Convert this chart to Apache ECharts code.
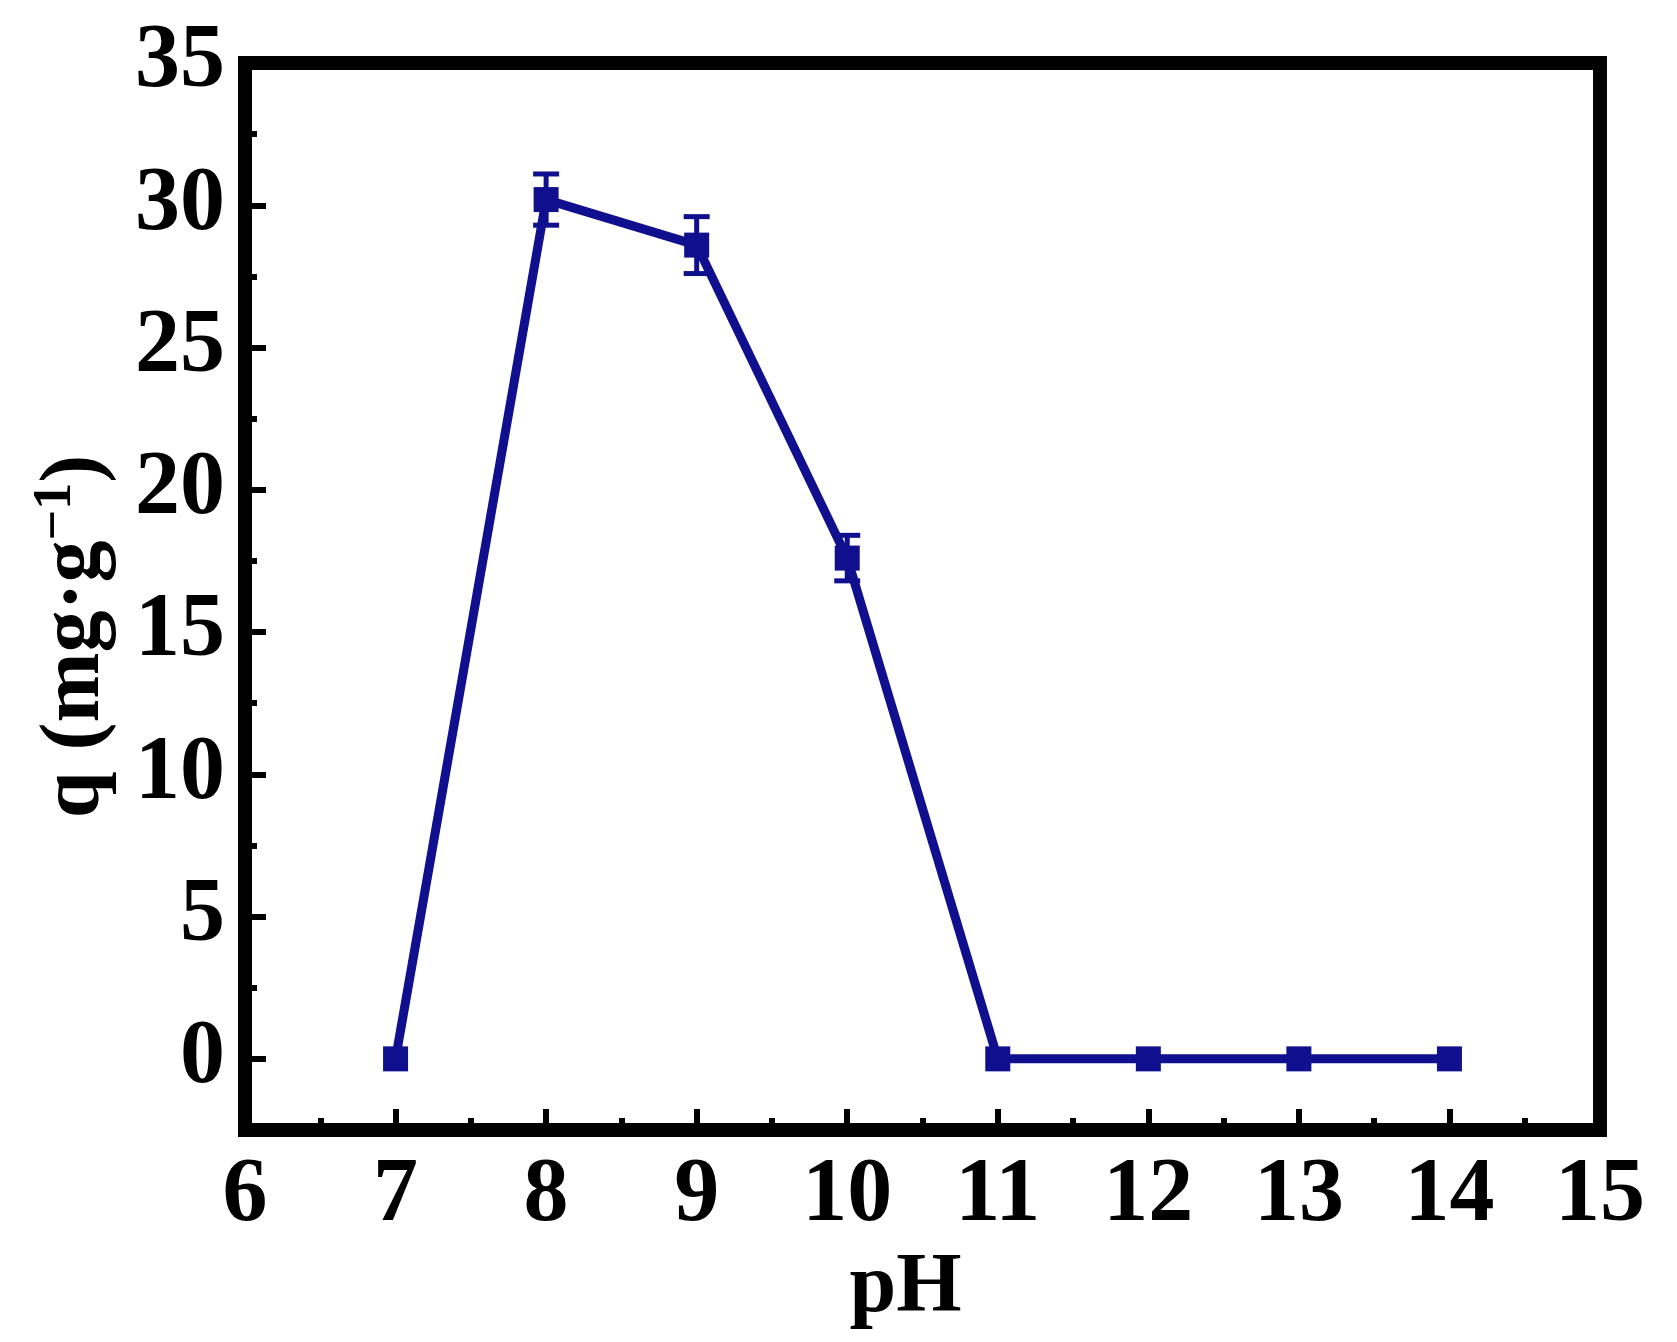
<!DOCTYPE html>
<html>
<head>
<meta charset="utf-8">
<script src="https://cdn.jsdelivr.net/npm/echarts@6/dist/echarts.min.js"></script>
<style>
    html, body {margin: 0; padding: 0; background: #fff;}
    #main {width: 1677px; height: 1342px;}
</style>
</head>
<body>
<div id="main"></div>
<script>
// pH values and adsorption capacity q (mg/g)
const phValues = [7, 8, 9, 10, 11, 12, 13, 14];
const qValues = [0, 30.2, 28.6, 17.6, 0, 0, 0, 0];
const qErrors = [0, 0.9, 1.0, 0.8, 0, 0, 0, 0];
const yTickValues = [0, 5, 10, 15, 20, 25, 30, 35];

const blue = '#10108e';
const font = "'Liberation Serif', 'Times New Roman', serif";

const lineData = phValues.map((x, i) => [x, qValues[i]]);
const errData = phValues
    .map((x, i) => [x, qValues[i] - qErrors[i], qValues[i] + qErrors[i], qErrors[i]])
    .filter(d => d[3] > 0);

const myChart = echarts.init(document.getElementById('main'));
myChart.setOption({
    animation: false,
    grid: {
        left: 245,
        right: 77,
        top: 63,
        bottom: 212,
        show: true,
        borderColor: '#000',
        borderWidth: 14
    },
    xAxis: {
        type: 'value',
        min: 6,
        max: 15,
        interval: 1,
        name: 'pH',
        nameLocation: 'middle',
        nameGap: 100,
        nameTextStyle: {
            fontFamily: font,
            fontWeight: 'bold',
            fontSize: 84,
            color: '#000',
            padding: [0, 34, 0, 0]
        },
        axisLine: {show: false, onZero: false},
        axisTick: {inside: true, length: 21, lineStyle: {color: '#000', width: 6}},
        minorTick: {show: true, splitNumber: 2, length: 12, lineStyle: {color: '#000', width: 6}},
        splitLine: {show: false},
        axisLabel: {
            margin: 22,
            fontFamily: font,
            fontWeight: 'bold',
            fontSize: 90,
            color: '#000',
            showMinLabel: true,
            showMaxLabel: true
        }
    },
    yAxis: [
        {
            type: 'value',
            position: 'left',
            min: -2.5,
            max: 35,
            interval: 2.5,
            name: 'q (mg·g{s|−1})',
            nameLocation: 'middle',
            nameGap: 122,
            nameRotate: 90,
            nameTextStyle: {
                fontFamily: font,
                fontWeight: 'bold',
                fontSize: 84,
                color: '#000',
                padding: [0, 80, 0, 0],
                rich: {
                    s: {
                        fontFamily: font,
                        fontWeight: 'bold',
                        fontSize: 54,
                        color: '#000',
                        verticalAlign: 'top',
                        padding: [0, 0, 40, 0]
                    }
                }
            },
            axisLine: {show: false, onZero: false},
            axisTick: {
                inside: true,
                length: 21,
                customValues: yTickValues,
                lineStyle: {color: '#000', width: 6}
            },
            splitLine: {show: false},
            axisLabel: {
                margin: 20,
                customValues: yTickValues,
                fontFamily: font,
                fontWeight: 'bold',
                fontSize: 90,
                color: '#000'
            }
        },
        {
            // minor ticks every 2.5 on the left side
            type: 'value',
            position: 'left',
            min: -2.5,
            max: 35,
            interval: 2.5,
            axisLine: {show: false, onZero: false},
            axisTick: {inside: true, length: 12, lineStyle: {color: '#000', width: 6}},
            splitLine: {show: false},
            axisLabel: {show: false}
        }
    ],
    series: [
        {
            type: 'custom',
            yAxisIndex: 0,
            data: errData,
            z: 3,
            renderItem: function (params, api) {
                const x = api.value(0);
                const top = api.coord([x, api.value(2)]);
                const bottom = api.coord([x, api.value(1)]);
                const w = 13;
                const style = {stroke: blue, lineWidth: 5};
                return {
                    type: 'group',
                    children: [
                        {type: 'line', shape: {x1: top[0], y1: top[1], x2: bottom[0], y2: bottom[1]}, style: style},
                        {type: 'line', shape: {x1: top[0] - w, y1: top[1], x2: top[0] + w, y2: top[1]}, style: style},
                        {type: 'line', shape: {x1: bottom[0] - w, y1: bottom[1], x2: bottom[0] + w, y2: bottom[1]}, style: style}
                    ]
                };
            }
        },
        {
            type: 'line',
            yAxisIndex: 0,
            data: lineData,
            z: 4,
            symbol: 'rect',
            symbolSize: 25,
            lineStyle: {color: blue, width: 9},
            itemStyle: {color: blue}
        }
    ]
});
</script>
</body>
</html>
